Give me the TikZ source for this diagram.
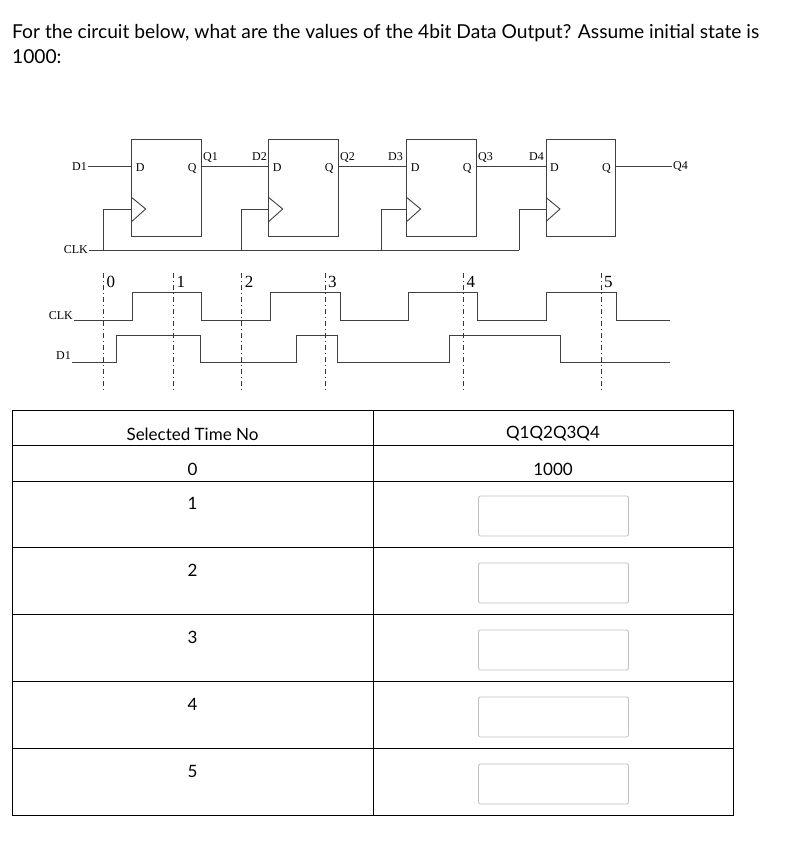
\documentclass[tikz,border=0pt]{standalone}
\usepackage{fontspec}
\setmainfont{Lato}
\newfontfamily\circfont{Liberation Serif}
\begin{document}
\begin{tikzpicture}[x=1pt,y=-1pt,
  ff/.style={draw=black!75,line width=0.9pt},
  wire/.style={draw=black!75,line width=0.9pt},
  lbl/.style={font=\circfont\fontsize{12}{13}\selectfont,inner sep=1pt},
  num/.style={font=\circfont\fontsize{17}{18}\selectfont,inner sep=0pt,anchor=west},
  tick/.style={draw=black!80,line width=0.8pt,dash pattern=on 5pt off 3pt on 1pt off 3pt},
  cell/.style={font=\fontsize{17}{19}\selectfont},
  inbox/.style={draw=black!25,rounded corners=2pt,line width=0.8pt}]
\useasboundingbox (0,0) rectangle (798,844);
\node[anchor=base west,inner sep=0pt,font=\fontsize{19.2}{22}\selectfont] (t1) at (12,38) {For the circuit below, what are the values of the 4bit Data Output? Assume initial state is};
\node[anchor=base west,inner sep=0pt,font=\fontsize{19.2}{22}\selectfont] (t2) at (12,63) {1000:};
% flip-flops
\foreach \i/\x in {1/131.7,2/268.7,3/406.7,4/546}{
  \draw[ff] (\x,139.3) rectangle ++(69.5,97.4);
  \coordinate (d\i) at (\x,166.7);
  \coordinate (q\i) at (\x+69.5,166.7);
  \coordinate (c\i) at (\x,209);
  \draw[ff] (\x,197.5) -- (\x+14,209) -- (\x,221.5);
  \node[lbl,anchor=west] (dl\i) at (\x+3,168) {D};
  \node[lbl,anchor=east] (ql\i) at (\x+66,168) {Q};
}
\node[lbl,anchor=east] (D1) at (88,166.7) {D1};
\draw[wire] (D1.east) -- (d1);
\draw[wire] (q1) -- (d2); \draw[wire] (q2) -- (d3); \draw[wire] (q3) -- (d4);
\node[lbl,anchor=west] (Q1) at (202,157) {Q1};
\node[lbl,anchor=east] (D2) at (268,157) {D2};
\node[lbl,anchor=west] (Q2) at (339,157) {Q2};
\node[lbl,anchor=east] (D3) at (404,157) {D3};
\node[lbl,anchor=west] (Q3) at (477,157) {Q3};
\node[lbl,anchor=east] (D4) at (545,157) {D4};
\node[lbl,anchor=west] (Q4) at (672,166.7) {Q4};
\draw[wire] (q4) -- (Q4.west);
\node[lbl,anchor=east] (CLK) at (89,250) {CLK};
\draw[wire] (CLK.east) -- (519,250);
\draw[wire] (103.3,250) |- (c1);
\draw[wire] (241.7,250) |- (c2);
\draw[wire] (381,250) |- (c3);
\draw[wire] (519,250) |- (c4);
% timing
\foreach \x/\n in {103.3/0,173.3/1,241.7/2,325/3,463.3/4,601/5}{
  \draw[tick] (\x,273) -- (\x,392);
  \node[num] (n\n) at (\x+3,282) {\n};
}
\node[lbl,anchor=east] (CLKw) at (74,316) {CLK};
\node[lbl,anchor=east] (D1w) at (72,356) {D1};
\draw[wire] (CLKw.east |- 0,320) -- (132.3,320) -- (132.3,292.3) -- (201.7,292.3) -- (201.7,320) -- (270,320) -- (270,292.3) -- (340,292.3) -- (340,320) -- (408.3,320) -- (408.3,292.3) -- (477.3,292.3) -- (477.3,320) -- (546,320) -- (546,292.3) -- (616,292.3) -- (616,320) -- (670,320);
\draw[wire] (D1w.east |- 0,362.7) -- (116.7,362.7) -- (116.7,335) -- (200,335) -- (200,362.7) -- (296.7,362.7) -- (296.7,335) -- (337.7,335) -- (337.7,362.7) -- (449,362.7) -- (449,335) -- (560,335) -- (560,362.7) -- (670,362.7);
% table
\draw[line width=0.8pt] (12,410) rectangle (733,815);
\draw[line width=0.8pt] (373,410) -- (373,815);
\foreach \y in {445,481,547,614,681,748}{\draw[line width=0.8pt] (12,\y) -- (733,\y);}
\node[cell] (h1) at (192.5,434) {Selected Time No};
\node[cell] (h2) at (553,434) {Q1Q2Q3Q4};
\node[cell] (r0) at (192.5,469) {0};
\node[cell] (v0) at (553,469) {1000};
\foreach \n/\y in {1/503,2/570,3/637,4/704,5/771}{
  \node[cell] (r\n) at (192.5,\y) {\n};
  \draw[inbox] (478.5,\y-7) rectangle (628.5,\y+33);
}
\end{tikzpicture}
\end{document}
